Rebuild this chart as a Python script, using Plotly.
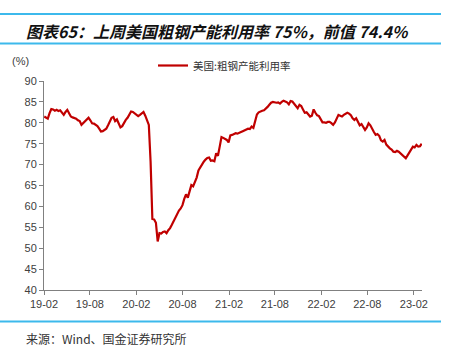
import pandas as pd
import plotly.graph_objects as go

# ---- data ----
start_date = "2019-02-02"
utilization = [
    81.5, 81.2, 81.0, 82.3, 83.3, 83.2, 82.9, 83.1, 82.8, 83.0,
    82.4, 81.9, 82.6, 83.1, 82.3, 81.5, 81.3, 81.1, 81.0, 80.6,
    80.4, 79.5, 79.9, 80.2, 80.7, 81.2, 80.6, 79.9, 79.8, 79.5,
    79.2, 78.6, 77.9, 78.0, 78.3, 78.6, 79.4, 80.2, 81.2, 81.4,
    80.4, 80.8, 80.0, 78.9, 79.2, 80.1, 80.7, 81.2, 82.0, 82.7,
    82.6, 82.3, 81.8, 81.6, 81.9, 82.2, 82.6, 81.7, 80.6, 79.5,
    70.7, 57.0, 56.9, 56.1, 51.6, 53.6, 53.5, 53.9, 54.0, 53.6,
    54.3, 54.8, 55.6, 56.5, 57.6, 58.4, 59.0, 59.5, 60.3, 61.8,
    62.9, 62.1, 63.4, 65.1, 64.8, 65.9, 66.9, 68.6, 69.4, 70.1,
    70.7, 71.2, 71.6, 71.7, 70.9, 71.0, 70.8, 72.7, 72.1, 74.3,
    76.6, 76.4, 76.2, 75.9, 75.3, 77.0, 77.1, 77.3, 77.5, 77.4,
    77.7, 77.8, 78.0, 78.2, 78.3, 78.6, 78.5, 79.1, 78.8, 80.4,
    82.0, 82.5, 82.8, 82.9, 83.0, 83.3, 83.8, 84.3, 84.8, 85.0,
    84.9, 84.8, 84.9, 84.6, 85.0, 85.3, 85.1, 84.9, 84.4, 85.2,
    85.1, 84.6, 84.1, 83.5, 84.3, 84.0, 83.2, 82.4, 82.5, 82.0,
    81.5, 81.7, 83.2, 82.4, 81.8, 81.6, 80.8, 80.1, 80.1, 80.0,
    80.2, 80.2, 79.9, 79.5, 80.1, 81.2, 81.9, 81.7, 81.5, 81.9,
    82.1, 82.4, 82.2, 81.8, 81.1, 80.7, 81.1, 80.0, 79.4, 79.7,
    79.0, 78.3, 78.9, 79.9, 79.4, 78.4, 77.8, 77.1, 77.3, 76.9,
    75.8, 75.5, 75.9, 74.8, 74.3, 73.9, 73.6, 73.1, 73.0, 73.3,
    73.1, 72.7, 72.2, 71.7, 71.5, 72.2, 72.9, 73.8, 74.3, 74.1,
    74.7, 74.3, 74.4, 75.0,
]
dates = pd.date_range(start_date, periods=len(utilization), freq="7D")

tick_dates = ["2019-02-01", "2019-08-01", "2020-02-01", "2020-08-01", "2021-02-01",
              "2021-08-01", "2022-02-01", "2022-08-01", "2023-02-01"]
tick_labels = ["19-02", "19-08", "20-02", "20-08", "21-02",
               "21-08", "22-02", "22-08", "23-02"]
y_ticks = [40, 45, 50, 55, 60, 65, 70, 75, 80, 85, 90]

series_name = "美国:粗钢产能利用率"
title_text = "图表65：上周美国粗钢产能利用率 75%，前值 74.4%"
source_text = "来源：Wind、国金证券研究所"

# ---- geometry (pixels) ----
W, H = 454, 351
L, R, T, B = 44, 422, 81, 290
pw, ph = R - L, B - T


def px(x):
    return (x - L) / pw


def py(y):
    return (B - y) / ph


fig = go.Figure()
fig.add_trace(go.Scatter(
    x=dates, y=utilization, mode="lines", name=series_name,
    line=dict(color="#C00000", width=2.2),
))

blue = "#3CB9EC"
shapes = [
    dict(type="line", xref="paper", yref="paper", x0=px(0), x1=px(441), y0=py(14), y1=py(14),
         line=dict(color=blue, width=2)),
    dict(type="line", xref="paper", yref="paper", x0=px(0), x1=px(441), y0=py(43.5), y1=py(43.5),
         line=dict(color=blue, width=2)),
    dict(type="line", xref="paper", yref="paper", x0=px(0), x1=px(441), y0=py(321.5), y1=py(321.5),
         line=dict(color=blue, width=2)),
]

annotations = [
    dict(text="<b><i>" + title_text + "</i></b>", xref="paper", yref="paper",
         x=px(24), y=py(31), xanchor="left", yanchor="middle", showarrow=False,
         font=dict(family="Noto Sans CJK SC", size=16, color="#111111")),
    dict(text=source_text, xref="paper", yref="paper",
         x=px(24), y=py(338), xanchor="left", yanchor="middle", showarrow=False,
         font=dict(family="Noto Sans CJK SC", size=12, color="#333333")),
    dict(text="(%)", xref="paper", yref="paper",
         x=px(20), y=py(61), xanchor="center", yanchor="middle", showarrow=False,
         font=dict(family="Liberation Sans", size=11, color="#404040")),
]

fig.update_layout(
    width=W, height=H,
    margin=dict(l=L, r=W - R, t=T, b=H - B, pad=0),
    paper_bgcolor="white", plot_bgcolor="white",
    shapes=shapes, annotations=annotations,
    showlegend=True,
    legend=dict(x=px(153), y=py(65.5), xanchor="left", yanchor="middle",
                bgcolor="rgba(0,0,0,0)", borderwidth=0,
                font=dict(family="Noto Sans CJK SC", size=10.5, color="#333333")),
    xaxis=dict(
        range=["2019-02-01", "2023-03-05"],
        tickvals=tick_dates, ticktext=tick_labels,
        showgrid=False, zeroline=False,
        showline=True, linecolor="#808080", linewidth=1,
        ticks="outside", ticklen=4, tickcolor="#808080",
        tickfont=dict(family="Liberation Sans", size=11, color="#404040"),
    ),
    yaxis=dict(
        range=[40, 90], tickvals=y_ticks,
        showgrid=False, zeroline=False,
        showline=True, linecolor="#808080", linewidth=1,
        ticks="outside", ticklen=4, tickcolor="#808080",
        tickfont=dict(family="Liberation Sans", size=11, color="#404040"),
    ),
)

fig.write_html("out.html")
